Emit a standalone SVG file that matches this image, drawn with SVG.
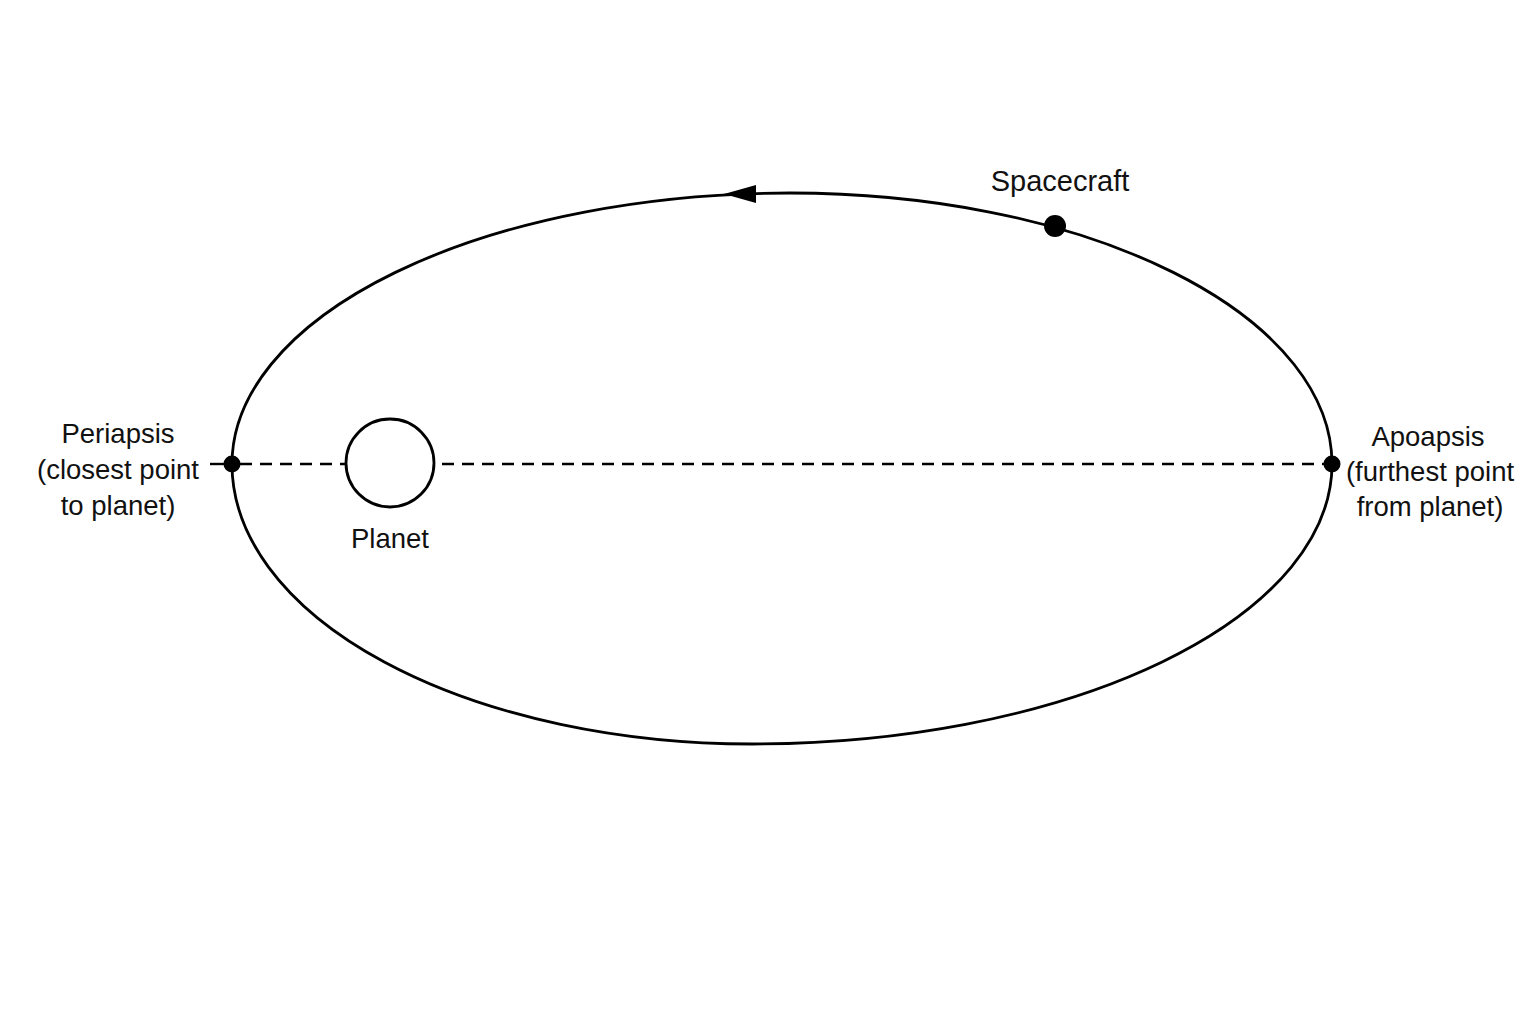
<svg xmlns="http://www.w3.org/2000/svg" width="1536" height="1024" viewBox="0 0 1536 1024">
<style>
.orbit{fill:none;stroke:#000;stroke-width:2.8}
.axis{fill:none;stroke:#000;stroke-width:2.4;stroke-dasharray:12 8}
.solid{fill:none;stroke:#000;stroke-width:2.4}
.dot{fill:#000}
text{font-family:"Liberation Sans",Arial,Helvetica,sans-serif;font-size:27.5px;fill:#111;text-anchor:middle}
.big{font-size:29px}
</style>
<rect width="1536" height="1024" fill="#fff"/>
<g id="connectors">
<path id="orbit" class="orbit" d="M232,464 A558,271 0 0 1 790,193 A542,271 0 0 1 1332,464 A580,280 0 0 1 752,744 A520,280 0 0 1 232,464 Z"/>
<polygon id="orbit-arrow" points="724,194 756,185 756,203" fill="#000"/>
<line class="solid" x1="210" y1="464" x2="232" y2="464"/>
<line class="axis" x1="240" y1="464" x2="345" y2="464"/>
<line class="axis" x1="442" y1="464" x2="1326" y2="464"/>
</g>
<g id="planet">
<circle cx="390" cy="463" r="44" fill="#fff" stroke="#000" stroke-width="2.8"/>
<text x="390" y="548">Planet</text>
</g>
<g id="periapsis">
<circle class="dot" cx="232" cy="464" r="8.5"/>
<text x="118" y="443">Periapsis</text>
<text x="118" y="479">(closest point</text>
<text x="118" y="515">to planet)</text>
</g>
<g id="apoapsis">
<circle class="dot" cx="1332" cy="464" r="8.5"/>
<text x="1428" y="446">Apoapsis</text>
<text x="1430" y="481">(furthest point</text>
<text x="1430" y="516">from planet)</text>
</g>
<g id="spacecraft">
<circle class="dot" cx="1055" cy="226" r="11"/>
<text class="big" x="1060" y="191">Spacecraft</text>
</g>
</svg>
